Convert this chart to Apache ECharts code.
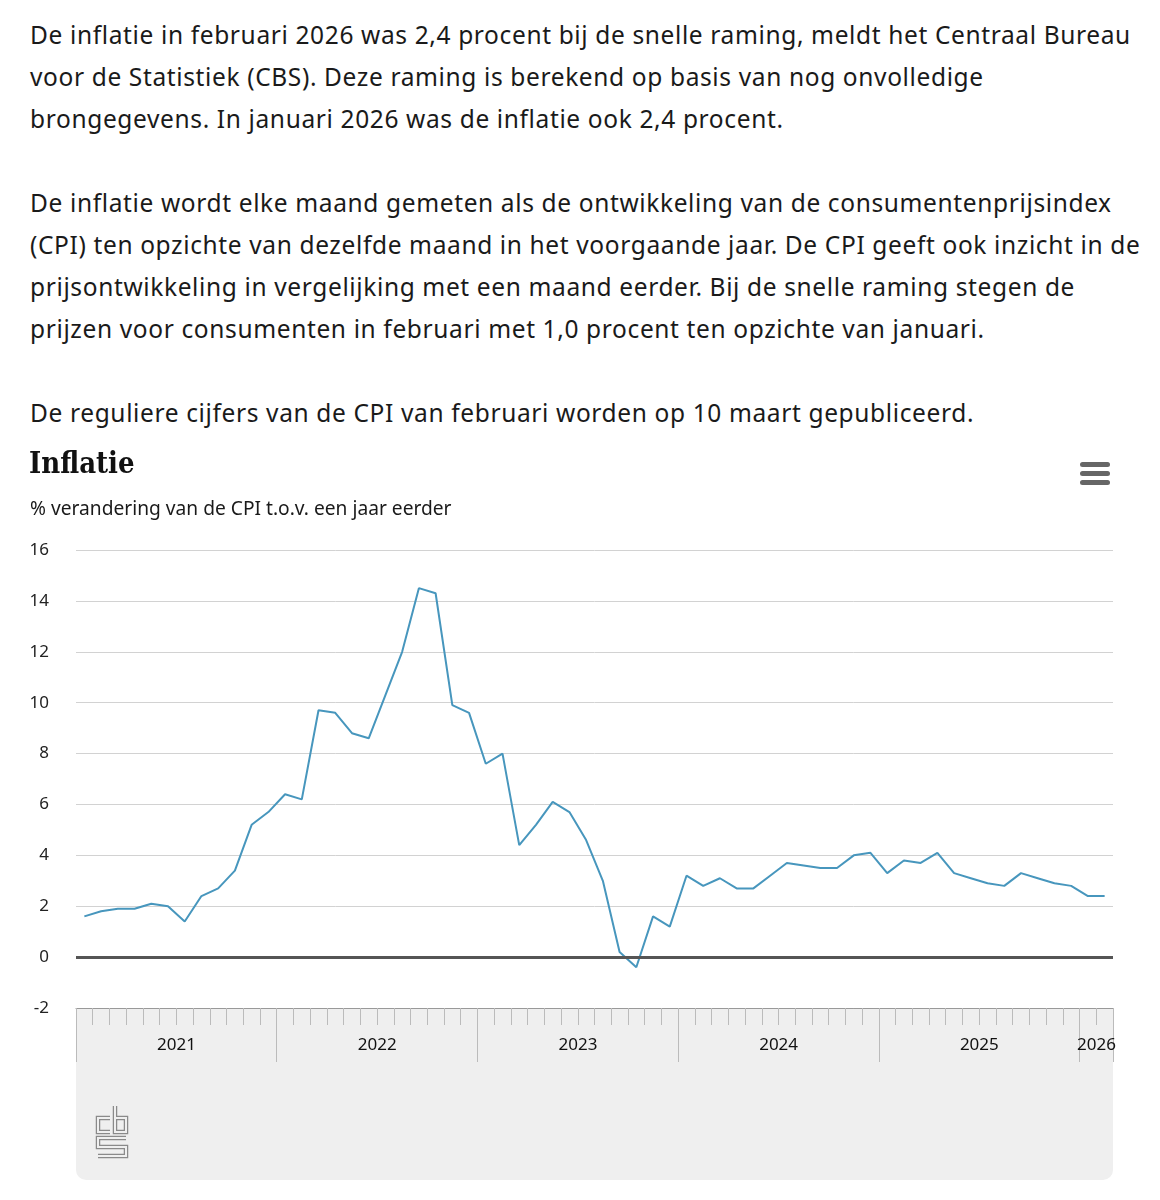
<!DOCTYPE html>
<html>
<head>
<meta charset="utf-8">
<script src="https://cdn.jsdelivr.net/npm/echarts@6/dist/echarts.min.js"></script>
<style>
  body { margin: 0; background: #fff; }
  .intro {
    position: absolute; left: 30px; top: 14px;
    font-family: "Noto Sans", sans-serif;
    font-size: 24.5px; line-height: 42px; color: #1a1a1a;
    letter-spacing: 0.63px;
    white-space: nowrap;
  }
  .intro p { margin: 0 0 42px 0; }
  .panel {
    position: absolute; left: 76px; top: 1008px; width: 1037px; height: 172px;
    background: #efefef; border-radius: 0 0 10px 10px;
  }
  #chart { position: absolute; left: 0; top: 430px; width: 1160px; height: 760px; }
</style>
</head>
<body>
<div class="intro">
  <p>De inflatie in februari 2026 was 2,4 procent bij de snelle raming, meldt het Centraal Bureau<br>
  voor de Statistiek (CBS). Deze raming is berekend op basis van nog onvolledige<br>
  brongegevens. In januari 2026 was de inflatie ook 2,4 procent.</p>
  <p>De inflatie wordt elke maand gemeten als de ontwikkeling van de consumentenprijsindex<br>
  (CPI) ten opzichte van dezelfde maand in het voorgaande jaar. De CPI geeft ook inzicht in de<br>
  prijsontwikkeling in vergelijking met een maand eerder. Bij de snelle raming stegen de<br>
  prijzen voor consumenten in februari met 1,0 procent ten opzichte van januari.</p>
  <p>De reguliere cijfers van de CPI van februari worden op 10 maart gepubliceerd.</p>
</div>
<div class="panel"></div>
<div id="chart"></div>
<script>
// maandcijfers inflatie (% t.o.v. een jaar eerder)
const years = ['2021', '2022', '2023', '2024', '2025', '2026']
const monthNames = ['jan', 'feb', 'mrt', 'apr', 'mei', 'jun', 'jul', 'aug', 'sep', 'okt', 'nov', 'dec']

const infl2021 = [1.6, 1.8, 1.9, 1.9, 2.1, 2.0, 1.4, 2.4, 2.7, 3.4, 5.2, 5.7]
const infl2022 = [6.4, 6.2, 9.7, 9.6, 8.8, 8.6, 10.3, 12.0, 14.5, 14.3, 9.9, 9.6]
const infl2023 = [7.6, 8.0, 4.4, 5.2, 6.1, 5.7, 4.6, 3.0, 0.2, -0.4, 1.6, 1.2]
const infl2024 = [3.2, 2.8, 3.1, 2.7, 2.7, 3.2, 3.7, 3.6, 3.5, 3.5, 4.0, 4.1]
const infl2025 = [3.3, 3.8, 3.7, 4.1, 3.3, 3.1, 2.9, 2.8, 3.3, 3.1, 2.9, 2.8]
const infl2026 = [2.4, 2.4]

const yTicks = [-2, 0, 2, 4, 6, 8, 10, 12, 14, 16]

const perYear = [infl2021, infl2022, infl2023, infl2024, infl2025, infl2026]
const categories = []
const yearStart = []
const yearLabelIdx = []
perYear.forEach((vals, y) => {
  yearStart.push(categories.length)
  yearLabelIdx.push(categories.length + Math.floor((vals.length - 1) / 2))
  vals.forEach((v, m) => categories.push(years[y] + ' ' + monthNames[m]))
})
const values = [].concat(...perYear)

const font = '"Noto Sans", sans-serif'
const chart = echarts.init(document.getElementById('chart'))

chart.setOption({
  animation: false,
  title: [
    {
      text: 'Inflatie', left: 29, top: 21, padding: 0,
      textStyle: { fontFamily: '"DejaVu Serif Condensed", "DejaVu Serif", serif', fontWeight: 'bold', fontSize: 29, color: '#111' }
    },
    {
      text: '% verandering van de CPI t.o.v. een jaar eerder', left: 30, top: 70, padding: 0,
      textStyle: { fontFamily: font, fontWeight: 'normal', fontSize: 19.2, color: '#1a1a1a' }
    }
  ],
  grid: { left: 76, right: 47, top: 120, bottom: 182 },
  xAxis: [
    {
      type: 'category',
      data: categories,
      boundaryGap: true,
      axisLine: { show: true, onZero: false, lineStyle: { color: '#999', width: 1 } },
      axisTick: { show: true, interval: 0, length: 17, lineStyle: { color: '#bbb', width: 1 } },
      axisLabel: {
        interval: (i) => yearLabelIdx.includes(i),
        formatter: (v) => v.slice(0, 4),
        padding: [0, 0, 0, 17],
        margin: 29,
        fontFamily: font, fontSize: 17, color: '#111'
      },
      splitLine: { show: false }
    },
    {
      type: 'category',
      data: categories,
      position: 'bottom',
      offset: 0,
      boundaryGap: true,
      axisLine: { show: false, onZero: false },
      axisTick: {
        show: true,
        interval: (i) => yearStart.includes(i),
        length: 54,
        lineStyle: { color: '#bbb', width: 1 }
      },
      axisLabel: { show: false },
      splitLine: { show: false }
    }
  ],
  yAxis: {
    type: 'value',
    min: yTicks[0],
    max: yTicks[yTicks.length - 1],
    interval: 2,
    axisLine: { show: false },
    axisTick: { show: false },
    axisLabel: { margin: 27, padding: [4, 0, 0, 0], fontFamily: font, fontSize: 17, color: '#222' },
    splitLine: { lineStyle: { color: '#d2d2d2', width: 1 } }
  },
  series: [{
    type: 'line',
    data: values,
    symbol: 'none',
    lineStyle: { color: '#4796bd', width: 2 },
    z: 3,
    markLine: {
      silent: true,
      symbol: 'none',
      label: { show: false },
      lineStyle: { color: '#555', width: 3, type: 'solid' },
      data: [{ yAxis: 0 }]
    }
  }],
  graphic: [
    // menu-icoon
    { type: 'rect', shape: { x: 1080, y: 32, width: 30, height: 5, r: 2.5 }, style: { fill: '#666' } },
    { type: 'rect', shape: { x: 1080, y: 41, width: 30, height: 5, r: 2.5 }, style: { fill: '#666' } },
    { type: 'rect', shape: { x: 1080, y: 50, width: 30, height: 5, r: 2.5 }, style: { fill: '#666' } },
    // cbs-logo (dubbele lijn)
    {
      type: 'group',
      children: [
        [[110, 688], [98, 688], [98, 702], [110, 702]],
        [[115, 676], [115, 702], [126, 702], [126, 688], [115, 688]],
        [[126, 708], [98, 708], [98, 717], [126, 717], [126, 726], [98, 726]]
      ].flatMap((pts) => [
        { type: 'polyline', shape: { points: pts }, style: { stroke: '#8a8a8a', lineWidth: 4.5, fill: null } },
        { type: 'polyline', shape: { points: pts }, style: { stroke: '#efefef', lineWidth: 2, fill: null } }
      ])
    }
  ]
})
</script>
</body>
</html>
